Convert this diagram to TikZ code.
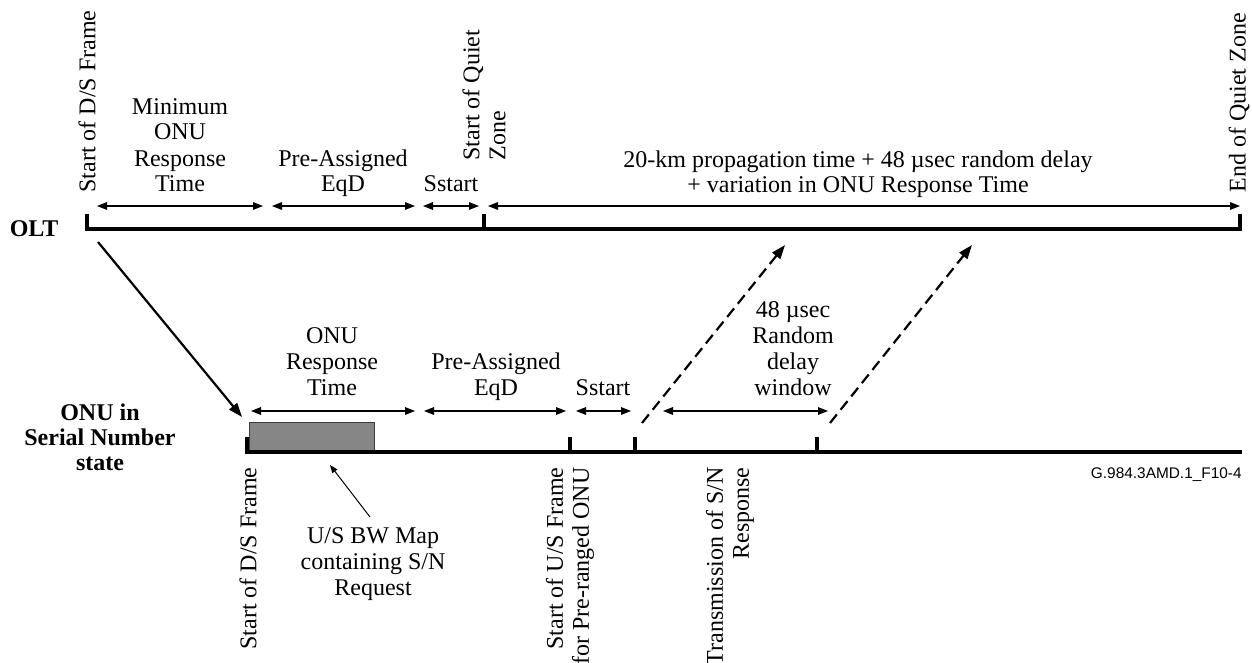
\documentclass[tikz,border=0pt]{standalone}
\usepackage{fontspec}
\setmainfont{Liberation Serif}
\newfontfamily\tagfont{Liberation Sans}
\usetikzlibrary{positioning}
\usetikzlibrary{arrows.meta}

\definecolor{boxgray}{RGB}{134,134,134}
\definecolor{boxedge}{RGB}{60,60,60}

\tikzset{
	axisline/.style = {black, line width = 2pt},
	spanarrow/.style = {black, line width = 0.6pt, {Triangle[length = 5pt, width = 3.8pt]}-{Triangle[length = 5pt, width = 3.8pt]}},
	txt/.style = {font = \fontsize{12}{13}\selectfont, align = center, inner sep = 0pt},
	vtxt/.style = {txt, rotate = 90},
	side/.style = {font = \fontsize{12}{12.5}\selectfont\bfseries, align = center, inner sep = 0pt},
	travel/.style = {black, line width = 1.1pt, dash pattern = on 5.5pt off 3pt, -{Triangle[length = 7pt, width = 5pt]}},
}

\begin{document}
\begin{tikzpicture}[x = 0.5pt, y = -0.5pt]
	\useasboundingbox (0, 0) rectangle (1252, 663);
	\node (olt) at (34, 229) [side] {OLT};
	\coordinate (olt0) at (87, 229);
	\coordinate (oltq) at (484, 229);
	\coordinate (olte) at (1240, 229);
	\draw [axisline] (87, 214) -- (olt0) -- (olte) -- (1240, 214);
	\draw [axisline] (484, 214) -- (oltq);
	\node (dsf) at (87, 193) [vtxt, anchor = west] {Start of D/S Frame};
	\node (sqz) at (484, 161) [vtxt, anchor = west, align = left] {Start of Quiet\\Zone};
	\node (eqz) at (1239, 193) [vtxt, anchor = west] {End of Quiet Zone};
	\coordinate (a0) at (97, 206);
	\coordinate (a1) at (263, 206);
	\coordinate (a2) at (272, 206);
	\coordinate (a3) at (415, 206);
	\coordinate (a4) at (423, 206);
	\coordinate (a5) at (479, 206);
	\coordinate (a6) at (488, 206);
	\coordinate (a7) at (1240, 206);
	\draw [spanarrow] (a0) -- (a1);
	\draw [spanarrow] (a2) -- (a3);
	\draw [spanarrow] (a4) -- (a5);
	\draw [spanarrow] (a6) -- (a7);
	\node (minr) at (180, 192) [txt, anchor = base] {Minimum\\ONU\\Response\\Time};
	\node (peq1) at (343, 192) [txt, anchor = base] {Pre-Assigned\\EqD};
	\node (ss1) at (451, 192) [txt, anchor = base] {Sstart};
	\node (prop) at (858, 193) [txt, anchor = base] {20-km propagation time + 48 µsec random delay\\+ variation in ONU Response Time};
	\node (onu) at (100, 437) [side] {ONU in\\Serial Number\\state};
	\draw [fill = boxgray, draw = boxedge, line width = 0.5pt] (249, 422) rectangle (374, 451);
	\coordinate (onu0) at (247, 452);
	\coordinate (onue) at (1242, 452);
	\draw [axisline] (247, 437) -- (onu0) -- (onue);
	\foreach \t in {570, 635, 817}
		\draw [axisline] (\t, 437) -- (\t, 452);
	\coordinate (b0) at (251, 411);
	\coordinate (b1) at (415, 411);
	\coordinate (b2) at (424, 411);
	\coordinate (b3) at (566, 411);
	\coordinate (b4) at (576, 411);
	\coordinate (b5) at (631, 411);
	\coordinate (b6) at (663, 411);
	\coordinate (b7) at (828, 411);
	\draw [spanarrow] (b0) -- (b1);
	\draw [spanarrow] (b2) -- (b3);
	\draw [spanarrow] (b4) -- (b5);
	\draw [spanarrow] (b6) -- (b7);
	\node (onur) at (332, 395) [txt, anchor = base] {ONU\\Response\\Time};
	\node (peq2) at (496, 395) [txt, anchor = base] {Pre-Assigned\\EqD};
	\node (ss2) at (603, 395) [txt, anchor = base] {Sstart};
	\node (rdw) at (793, 395) [txt, anchor = base] {48 µsec\\Random\\delay\\window};
	\coordinate (down0) at (98, 242);
	\coordinate (down1) at (242, 417);
	\draw [black, line width = 1.1pt, -{Triangle[length = 7pt, width = 5pt]}] (down0) -- (down1);
	\coordinate (up0) at (642, 423);
	\coordinate (up1) at (785, 245);
	\coordinate (up2) at (830, 423);
	\coordinate (up3) at (972, 245);
	\draw [travel] (up0) -- (up1);
	\draw [travel] (up2) -- (up3);
	\node (dsf2) at (248, 467) [vtxt, anchor = east] {Start of D/S Frame};
	\node (usf) at (570, 467) [vtxt, anchor = east, align = right] {Start of U/S Frame\\for Pre-ranged ONU};
	\node (txr) at (730, 467) [vtxt, anchor = east, align = right] {Transmission of S/N\\Response};
	\node (map) at (373, 564) [txt] {U/S BW Map\\containing S/N\\Request};
	\coordinate (ptr0) at (370, 517);
	\coordinate (ptr1) at (330, 465);
	\draw [black, line width = 0.5pt, -{Triangle[length = 4pt, width = 3pt]}] (ptr0) -- (ptr1);
	\node (tag) at (1242, 475) [anchor = east, inner sep = 0pt, font = \tagfont\fontsize{7.7}{9}\selectfont] {G.984.3AMD.1\_F10-4};
\end{tikzpicture}
\end{document}
